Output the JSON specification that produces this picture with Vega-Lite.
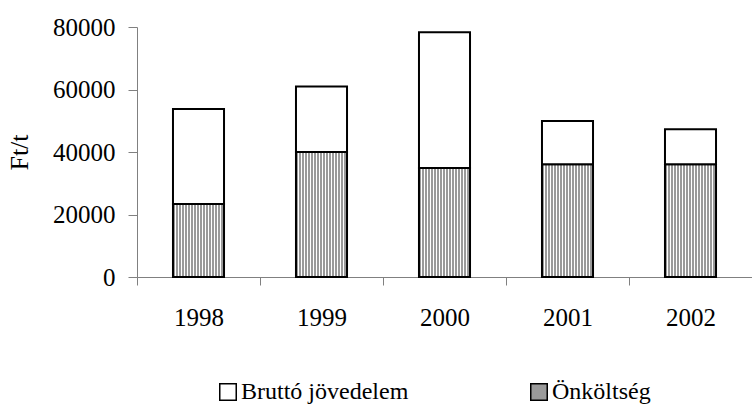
{
  "$schema": "https://vega.github.io/schema/vega-lite/v6.json",
  "width": 615,
  "height": 250,
  "autosize": {"type": "none"},
  "padding": {"left": 137, "top": 27, "right": 0, "bottom": 128},
  "background": "white",
  "data": {
    "values": [
      {"year": "1998", "type": "Önköltség", "value": 23400},
      {"year": "1998", "type": "Bruttó jövedelem", "value": 30400},
      {"year": "1999", "type": "Önköltség", "value": 40000},
      {"year": "1999", "type": "Bruttó jövedelem", "value": 21000},
      {"year": "2000", "type": "Önköltség", "value": 34900},
      {"year": "2000", "type": "Bruttó jövedelem", "value": 43400},
      {"year": "2001", "type": "Önköltség", "value": 36100},
      {"year": "2001", "type": "Bruttó jövedelem", "value": 13800},
      {"year": "2002", "type": "Önköltség", "value": 36100},
      {"year": "2002", "type": "Bruttó jövedelem", "value": 11200}
    ]
  },
  "mark": {"type": "bar", "width": {"band": 0.415}, "stroke": "black", "strokeWidth": 2, "strokeJoin": "miter"},
  "encoding": {
    "x": {
      "field": "year",
      "type": "nominal",
      "scale": {"paddingInner": 0, "paddingOuter": 0},
      "axis": {
        "title": null,
        "labelAngle": 0,
        "tickBand": "extent",
        "tickSize": 8,
        "labelPadding": 20,
        "domainColor": "#808080",
        "tickColor": "#808080"
      }
    },
    "y": {
      "field": "value",
      "type": "quantitative",
      "stack": "zero",
      "scale": {"domain": [0, 80000], "nice": false},
      "axis": {
        "title": "Ft/t",
        "values": [0, 20000, 40000, 60000, 80000],
        "grid": false,
        "tickSize": 9,
        "labelPadding": 13,
        "domainColor": "#808080",
        "tickColor": "#808080",
        "titlePadding": 20,
        "format": "d"
      }
    },
    "order": {"field": "type", "sort": "descending"},
    "fill": {
      "field": "type",
      "type": "nominal",
      "scale": {
        "domain": ["Bruttó jövedelem", "Önköltség"],
        "range": ["white", "#9a9a9a"]
      },
      "condition": {
        "test": "datum.type === 'Önköltség'",
        "value": {
          "gradient": "linear",
          "x1": 0, "y1": 0, "x2": 1, "y2": 0,
          "stops": [
            {"offset": 0, "color": "#9a9a9a"}, {"offset": 0.0353, "color": "#9a9a9a"}, {"offset": 0.0353, "color": "white"}, {"offset": 0.0588, "color": "white"},
            {"offset": 0.0588, "color": "#9a9a9a"}, {"offset": 0.0941, "color": "#9a9a9a"}, {"offset": 0.0941, "color": "white"}, {"offset": 0.1176, "color": "white"},
            {"offset": 0.1176, "color": "#9a9a9a"}, {"offset": 0.1529, "color": "#9a9a9a"}, {"offset": 0.1529, "color": "white"}, {"offset": 0.1765, "color": "white"},
            {"offset": 0.1765, "color": "#9a9a9a"}, {"offset": 0.2118, "color": "#9a9a9a"}, {"offset": 0.2118, "color": "white"}, {"offset": 0.2353, "color": "white"},
            {"offset": 0.2353, "color": "#9a9a9a"}, {"offset": 0.2706, "color": "#9a9a9a"}, {"offset": 0.2706, "color": "white"}, {"offset": 0.2941, "color": "white"},
            {"offset": 0.2941, "color": "#9a9a9a"}, {"offset": 0.3294, "color": "#9a9a9a"}, {"offset": 0.3294, "color": "white"}, {"offset": 0.3529, "color": "white"},
            {"offset": 0.3529, "color": "#9a9a9a"}, {"offset": 0.3882, "color": "#9a9a9a"}, {"offset": 0.3882, "color": "white"}, {"offset": 0.4118, "color": "white"},
            {"offset": 0.4118, "color": "#9a9a9a"}, {"offset": 0.4471, "color": "#9a9a9a"}, {"offset": 0.4471, "color": "white"}, {"offset": 0.4706, "color": "white"},
            {"offset": 0.4706, "color": "#9a9a9a"}, {"offset": 0.5059, "color": "#9a9a9a"}, {"offset": 0.5059, "color": "white"}, {"offset": 0.5294, "color": "white"},
            {"offset": 0.5294, "color": "#9a9a9a"}, {"offset": 0.5647, "color": "#9a9a9a"}, {"offset": 0.5647, "color": "white"}, {"offset": 0.5882, "color": "white"},
            {"offset": 0.5882, "color": "#9a9a9a"}, {"offset": 0.6235, "color": "#9a9a9a"}, {"offset": 0.6235, "color": "white"}, {"offset": 0.6471, "color": "white"},
            {"offset": 0.6471, "color": "#9a9a9a"}, {"offset": 0.6824, "color": "#9a9a9a"}, {"offset": 0.6824, "color": "white"}, {"offset": 0.7059, "color": "white"},
            {"offset": 0.7059, "color": "#9a9a9a"}, {"offset": 0.7412, "color": "#9a9a9a"}, {"offset": 0.7412, "color": "white"}, {"offset": 0.7647, "color": "white"},
            {"offset": 0.7647, "color": "#9a9a9a"}, {"offset": 0.8, "color": "#9a9a9a"}, {"offset": 0.8, "color": "white"}, {"offset": 0.8235, "color": "white"},
            {"offset": 0.8235, "color": "#9a9a9a"}, {"offset": 0.8588, "color": "#9a9a9a"}, {"offset": 0.8588, "color": "white"}, {"offset": 0.8824, "color": "white"},
            {"offset": 0.8824, "color": "#9a9a9a"}, {"offset": 0.9176, "color": "#9a9a9a"}, {"offset": 0.9176, "color": "white"}, {"offset": 0.9412, "color": "white"},
            {"offset": 0.9412, "color": "#9a9a9a"}, {"offset": 0.9765, "color": "#9a9a9a"}, {"offset": 0.9765, "color": "white"}, {"offset": 1, "color": "white"}
          ]
        }
      },
      "legend": {
        "title": null,
        "orient": "none",
        "direction": "horizontal",
        "legendX": 79,
        "legendY": 353,
        "symbolType": "square",
        "symbolSize": 272,
        "labelOffset": 1,
        "labelLimit": 400,
        "columnPadding": 118,
        "encode": {
          "symbols": {
            "update": {
              "stroke": {"value": "black"},
              "strokeWidth": {"value": 1.5},
              "opacity": {"value": 1},
              "fill": [
                {
                  "test": "datum.value === 'Önköltség'",
                  "value": {
                    "gradient": "linear",
                    "x1": 0, "y1": 0, "x2": 1, "y2": 0,
                    "stops": [
                      {"offset": 0, "color": "#9a9a9a"}, {"offset": 0.1, "color": "#9a9a9a"}, {"offset": 0.1, "color": "white"}, {"offset": 0.1667, "color": "white"},
                      {"offset": 0.1667, "color": "#9a9a9a"}, {"offset": 0.2667, "color": "#9a9a9a"}, {"offset": 0.2667, "color": "white"}, {"offset": 0.3333, "color": "white"},
                      {"offset": 0.3333, "color": "#9a9a9a"}, {"offset": 0.4333, "color": "#9a9a9a"}, {"offset": 0.4333, "color": "white"}, {"offset": 0.5, "color": "white"},
                      {"offset": 0.5, "color": "#9a9a9a"}, {"offset": 0.6, "color": "#9a9a9a"}, {"offset": 0.6, "color": "white"}, {"offset": 0.6667, "color": "white"},
                      {"offset": 0.6667, "color": "#9a9a9a"}, {"offset": 0.7667, "color": "#9a9a9a"}, {"offset": 0.7667, "color": "white"}, {"offset": 0.8333, "color": "white"},
                      {"offset": 0.8333, "color": "#9a9a9a"}, {"offset": 0.9333, "color": "#9a9a9a"}, {"offset": 0.9333, "color": "white"}, {"offset": 1, "color": "white"}
                    ]
                  }
                },
                {"value": "white"}
              ]
            }
          }
        }
      }
    }
  },
  "config": {
    "view": {"stroke": null},
    "font": "Liberation Serif",
    "axis": {
      "labelFont": "Liberation Serif",
      "labelFontSize": 25,
      "labelColor": "black",
      "titleFont": "Liberation Serif",
      "titleFontSize": 26,
      "titleFontWeight": "normal",
      "titleColor": "black"
    },
    "legend": {
      "labelFont": "Liberation Serif",
      "labelFontSize": 24,
      "labelColor": "black"
    }
  }
}
